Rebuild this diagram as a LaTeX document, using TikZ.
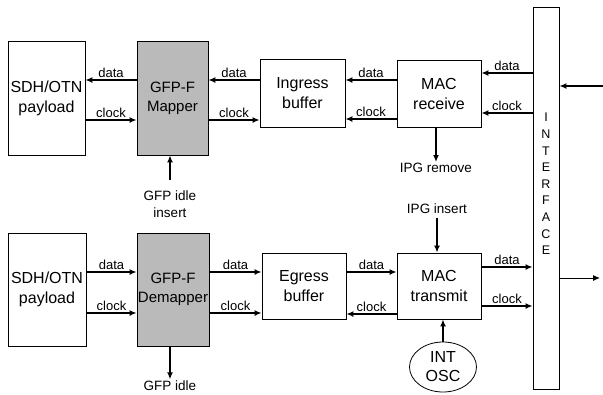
\documentclass[tikz,border=0pt]{standalone}
\usepackage{fontspec}
\setmainfont{Liberation Sans}
\usetikzlibrary{arrows.meta,shapes.geometric,calc}
\begin{document}
\begin{tikzpicture}[x=1pt,y=-1pt,
 box/.style={draw, line width=0.8pt, inner sep=0pt, align=center, font=\fontsize{16}{20}\selectfont},
 gbox/.style={box, fill=black!27, font=\fontsize{15}{19}\selectfont, text=black},
 arr/.style={line width=1.5pt, -{Latex[length=7pt,width=6pt]}},
 thinarr/.style={line width=1pt, -{Latex[length=7pt,width=6pt]}},
 lbl/.style={font=\fontsize{13}{15}\selectfont, inner sep=1.5pt},
 note/.style={font=\fontsize{13.5}{17}\selectfont, align=center, inner sep=1pt},
]
\useasboundingbox (0,0) rectangle (603,394);

% upper row
\node[box, minimum width=77pt, minimum height=114pt] (sdh1) at (46.5,98) {SDH/OTN\\payload};
\node[gbox, minimum width=71pt, minimum height=114pt] (gfp1) at (172.5,98) {GFP-F\\Mapper};
\node[box, minimum width=85pt, minimum height=68pt] (ing) at (302.5,93) {Ingress\\buffer};
\node[box, minimum width=84pt, minimum height=67pt] (macr) at (439,93.5) {MAC\\receive};

% interface bar
\node[draw, line width=0.8pt, minimum width=26pt, minimum height=382pt, inner sep=0pt] (if) at (546,198) {};
\node[font=\fontsize{12.5}{16.6}\selectfont, align=center, inner sep=0pt] (iftxt) at (546,184) {I\\N\\T\\E\\R\\F\\A\\C\\E};

% lower row
\node[box, minimum width=78pt, minimum height=113pt] (sdh2) at (47,289.5) {SDH/OTN\\payload};
\node[gbox, minimum width=72pt, minimum height=113pt] (gfp2) at (173,289.5) {GFP-F\\Demapper};
\node[box, minimum width=84pt, minimum height=66pt] (egr) at (304,286) {Egress\\buffer};
\node[box, minimum width=84pt, minimum height=66pt] (mact) at (439,286) {MAC\\transmit};
\node[draw, ellipse, line width=0.8pt, minimum width=67pt, minimum height=50pt, inner sep=0pt, align=center, font=\fontsize{16}{19}\selectfont] (osc) at (443,367) {INT\\OSC};

% notes
\node[note] (gii) at (170,204) {GFP idle\\insert};
\node[note] (ipgr) at (436,168) {IPG remove};
\node[note] (ipgi) at (437,209) {IPG insert};
\node[note] (gi) at (170,385.5) {GFP idle};

% upper arrows
\draw[arr] (gfp1.west |- 0,80) -- node[lbl,above]{data} (sdh1.east |- 0,80);
\draw[arr] (sdh1.east |- 0,120) -- node[lbl,above]{clock} (gfp1.west |- 0,120);
\draw[arr] (ing.west |- 0,80) -- node[lbl,above]{data} (gfp1.east |- 0,80);
\draw[arr] (gfp1.east |- 0,120) -- node[lbl,above]{clock} (ing.west |- 0,120);
\draw[arr] (macr.west |- 0,80) -- node[lbl,above]{data} (ing.east |- 0,80);
\draw[arr] (macr.west |- 0,119) -- node[lbl,above]{clock} (ing.east |- 0,119);
\draw[arr] (if.west |- 0,73) -- node[lbl,above]{data} (macr.east |- 0,73);
\draw[arr] (if.west |- 0,113) -- node[lbl,above]{clock} (macr.east |- 0,113);

\coordinate (inR) at (603,86);
\draw[arr] (inR) -- (if.east |- inR);
\coordinate (outR) at (600,278);
\draw[thinarr] (if.east |- outR) -- (outR);

\draw[arr] (ipgr.north |- macr.south) -- (ipgr.north);
\draw[arr] ($(gii.north)+(0,-9)$) -- (gii.north |- gfp1.south);

% lower arrows
\draw[arr] (sdh2.east |- 0,272) -- node[lbl,above]{data} (gfp2.west |- 0,272);
\draw[arr] (sdh2.east |- 0,313) -- node[lbl,above]{clock} (gfp2.west |- 0,313);
\draw[arr] (gfp2.east |- 0,272) -- node[lbl,above]{data} (egr.west |- 0,272);
\draw[arr] (gfp2.east |- 0,313) -- node[lbl,above]{clock} (egr.west |- 0,313);
\draw[arr] (egr.east |- 0,272) -- node[lbl,above]{data} (mact.west |- 0,272);
\draw[arr] (mact.west |- 0,314) -- node[lbl,above]{clock} (egr.east |- 0,314);
\draw[arr] (mact.east |- 0,267) -- node[lbl,above]{data} (if.west |- 0,267);
\draw[arr] (mact.east |- 0,306) -- node[lbl,above]{clock} (if.west |- 0,306);

\draw[arr] ($(ipgi.south)+(0,3)$) -- (ipgi.south |- mact.north);
\draw[arr] (osc.north) -- (osc.north |- mact.south);
\draw[arr] (gi.north |- gfp2.south) -- (gi.north);
\end{tikzpicture}
\end{document}
